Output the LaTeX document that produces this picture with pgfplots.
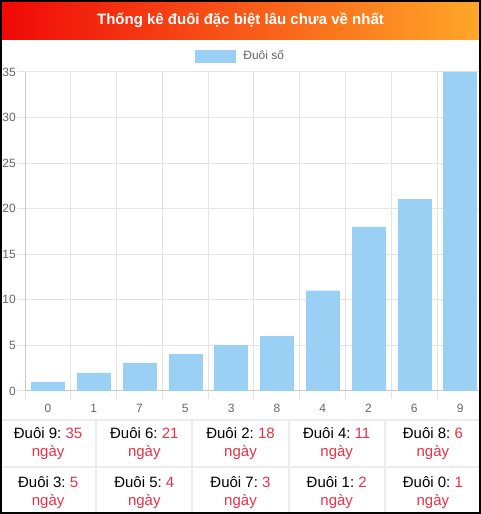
\documentclass[border=0pt]{standalone}
\usepackage{fontspec}
\setmainfont{Liberation Sans}
\usepackage{pgfplots}
\pgfplotsset{compat=1.18}
\frenchspacing

\definecolor{barblue}{RGB}{155,208,245}
\definecolor{gridgray}{RGB}{228,228,228}
\definecolor{axisgray}{RGB}{200,200,200}
\definecolor{ticktext}{RGB}{102,102,102}
\definecolor{numred}{RGB}{232,50,70}
\definecolor{titlered}{RGB}{240,8,8}
\definecolor{titleorange}{RGB}{255,168,40}
\definecolor{cellline}{RGB}{236,236,236}

\newcommand{\cell}[2]{Đuôi #1: \textcolor{numred}{#2}\\\textcolor{numred}{ngày}}

\begin{document}
\begin{tikzpicture}
\useasboundingbox (0pt,0pt) rectangle (481pt,514pt);
\begin{scope}
\clip (0pt,0pt) rectangle (481pt,514pt);
\fill[white] (0pt,0pt) rectangle (481pt,514pt);
% title bar
\shade[left color=titlered, right color=titleorange] (0pt,474pt) rectangle (481pt,514pt);
\node[text=white, font=\fontsize{15}{18}\selectfont\bfseries] at (240.5pt,494pt)
  {Thống kê đuôi đặc biệt lâu chưa về nhất};

\begin{axis}[
    at={(25pt,123pt)}, anchor=south west,
    scale only axis, width=458pt, height=319pt,
    xmin=-0.5, xmax=9.5, ymin=0, ymax=35,
    axis lines*=left,
    axis line style={draw=axisgray, line width=1pt},
    xtick={-0.5,0.5,...,9.5},
    x tick label as interval,
    xticklabels={0,1,7,5,3,8,4,2,6,9},
    ytick={0,5,...,35},
    grid=major,
    major grid style={draw=gridgray, line width=1pt},
    tick align=outside, major tick length=8pt,
    tick style={draw=gridgray, line width=1pt},
    ticklabel style={font=\fontsize{12}{14}\selectfont, text=ticktext},
    xticklabel style={yshift=-2pt},
    yticklabel style={inner sep=1pt},
    /pgf/number format/assume math mode=true,
    ybar, bar width=0.72,
    legend style={at={(0.4705,1.05)}, anchor=center, draw=none, fill=none,
        font=\fontsize{12}{14}\selectfont, text=ticktext},
    legend image code/.code={\fill[barblue] (0pt,-6pt) rectangle (40pt,6pt);},
]
\addplot[fill=barblue, draw=barblue] coordinates {
    (0,1) (1,2) (2,3) (3,4) (4,5) (5,6) (6,11) (7,18) (8,21) (9,35)};
\addlegendentry{\hspace{6pt}Đuôi số}
\end{axis}

% table of days
\draw[cellline, line width=2pt] (0pt,94pt) -- (481pt,94pt);
\draw[cellline, line width=2pt] (0pt,47pt) -- (481pt,47pt);
\foreach \xx in {96.2,192.4,288.6,384.8}
  \draw[cellline, line width=2pt] (\xx pt,0pt) -- (\xx pt,94pt);
\begin{scope}[every node/.style={align=center, font=\fontsize{15}{18}\selectfont}]
\node at (48.1pt,70pt) {\cell{9}{35}};
\node at (144.3pt,70pt) {\cell{6}{21}};
\node at (240.5pt,70pt) {\cell{2}{18}};
\node at (336.7pt,70pt) {\cell{4}{11}};
\node at (432.9pt,70pt) {\cell{8}{6}};
\node at (48.1pt,21pt) {\cell{3}{5}};
\node at (144.3pt,21pt) {\cell{5}{4}};
\node at (240.5pt,21pt) {\cell{7}{3}};
\node at (336.7pt,21pt) {\cell{1}{2}};
\node at (432.9pt,21pt) {\cell{0}{1}};
\end{scope}
\end{scope}
\draw[black, line width=2pt] (1pt,1pt) rectangle (480pt,513pt);
\end{tikzpicture}
\end{document}
